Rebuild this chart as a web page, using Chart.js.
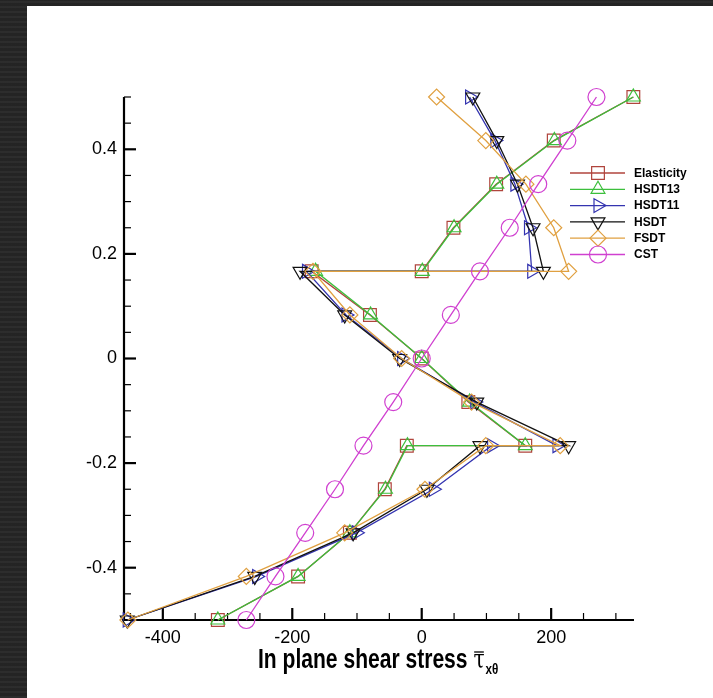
<!DOCTYPE html>
<html>
<head>
<meta charset="utf-8">
<script src="https://cdn.jsdelivr.net/npm/chart.js@4.4.1/dist/chart.umd.min.js"></script>
<style>
  html, body { margin: 0; padding: 0; width: 713px; height: 698px; overflow: hidden; background: #262626; }
  body { background-image: repeating-linear-gradient(0deg, rgba(255,255,255,0.03) 0 2px, rgba(0,0,0,0.05) 2px 5px); }
  #panel { position: absolute; left: 27px; top: 6px; width: 686px; height: 692px; background: #fff; }
  #wrap { position: absolute; left: 0; top: 0; width: 713px; height: 698px; }
</style>
</head>
<body>
<div id="panel"></div>
<div id="wrap"><canvas id="c" width="713" height="698"></canvas></div>
<script>
// Through-thickness coordinate z/h (interfaces at ±1/6 appear twice)
const zTheory = [-0.5, -0.4167, -0.3333, -0.25, -0.1667, -0.1667, -0.0833, 0, 0.0833, 0.1667, 0.1667, 0.25, 0.3333, 0.4167, 0.5];
const zCST = [-0.5, -0.4167, -0.3333, -0.25, -0.1667, -0.0833, 0, 0.0833, 0.1667, 0.25, 0.3333, 0.4167, 0.5];

// In-plane shear stress values per theory
const elasticity = [-315, -191, -111, -57, -23, 160, 72, 0, -80, -170, 0, 49, 115, 204, 327];
const hsdt13     = [-315, -191, -111, -56, -22, 160, 74, 0, -79, -164, 1, 50, 116, 205, 327];
const hsdt11     = [-455, -255, -101, 18, 108, 209, 82, -31, -117, -178, 170, 165, 144, 113, 74];
const hsdt       = [-455, -258, -106, 8, 90, 227, 85, -34, -119, -188, 188, 172, 148, 116, 79];
const fsdt       = [-454, -271, -119, 5, 99, 214, 77, -31, -111, -168, 227, 204, 161, 99, 23];
const cst        = [-271, -226, -180, -134, -90, -44, 0, 45, 90, 136, 180, 225, 270];

const seriesNames = ['Elasticity', 'HSDT13', 'HSDT11', 'HSDT', 'FSDT', 'CST'];
const xTickValues = [-400, -200, 0, 200];
const yTickValues = [-0.4, -0.2, 0, 0.2, 0.4];
const axisTitle = 'In plane shear stress ';

const toPoints = (xs, zs) => xs.map((v, i) => ({ x: v, y: zs[i] }));

const styles = [
  { color: '#b0443c', pointStyle: 'rect', radius: 9, rotation: 0 },
  { color: '#3cbf3c', pointStyle: 'triangle', radius: 8, rotation: 0 },
  { color: '#3434b0', pointStyle: 'triangle', radius: 8, rotation: 90 },
  { color: '#111111', pointStyle: 'triangle', radius: 8, rotation: 180 },
  { color: '#e0a040', pointStyle: 'rectRot', radius: 8, rotation: 0 },
  { color: '#d040d0', pointStyle: 'circle', radius: 8.5, rotation: 0 }
];

const seriesData = [
  toPoints(elasticity, zTheory),
  toPoints(hsdt13, zTheory),
  toPoints(hsdt11, zTheory),
  toPoints(hsdt, zTheory),
  toPoints(fsdt, zTheory),
  toPoints(cst, zCST)
];

// later series are painted over earlier ones
const datasets = seriesNames.map((name, i) => ({
  label: name,
  data: seriesData[i],
  order: seriesNames.length - i,
  borderColor: styles[i].color,
  backgroundColor: 'rgba(0,0,0,0)',
  borderWidth: 1.3,
  pointStyle: styles[i].pointStyle,
  pointRadius: styles[i].radius,
  pointRotation: styles[i].rotation,
  pointBorderColor: styles[i].color,
  pointBackgroundColor: 'rgba(0,0,0,0)',
  pointBorderWidth: 1.2,
  tension: 0,
  clip: false
}));

// Axis lines with inward major/minor ticks
const axesPlugin = {
  id: 'inwardAxes',
  beforeDatasetsDraw(chart) {
    const { ctx, chartArea: a, scales: { x, y } } = chart;
    ctx.save();
    ctx.strokeStyle = '#000';
    ctx.lineCap = 'butt';
    ctx.lineWidth = 2.2;
    ctx.beginPath();
    ctx.moveTo(a.left, a.top);
    ctx.lineTo(a.left, a.bottom);
    ctx.lineTo(a.right, a.bottom);
    ctx.stroke();
    // y ticks every 0.05, major every 0.2
    for (let k = -10; k <= 10; k++) {
      const py = y.getPixelForValue(k * 0.05);
      const major = k % 4 === 0;
      ctx.lineWidth = major ? 2.2 : 1.2;
      ctx.beginPath();
      ctx.moveTo(a.left, py);
      ctx.lineTo(a.left + (major ? 12 : 7), py);
      ctx.stroke();
    }
    // x ticks every 50, major every 200
    for (let v = -450; v <= 300; v += 50) {
      const px = x.getPixelForValue(v);
      const major = v % 200 === 0;
      ctx.lineWidth = major ? 2.2 : 1.2;
      ctx.beginPath();
      ctx.moveTo(px, a.bottom);
      ctx.lineTo(px, a.bottom - (major ? 12 : 7));
      ctx.stroke();
    }
    ctx.restore();
  }
};

// Legend drawn inside the plot area, line through marker
const legendPlugin = {
  id: 'innerLegend',
  afterDatasetsDraw(chart) {
    const { ctx } = chart;
    const x0 = 570, x1 = 625, xm = 598, xt = 634, yTop = 173, step = 16.3;
    ctx.save();
    chart.data.datasets.forEach((ds, i) => {
      const yy = yTop + i * step;
      ctx.strokeStyle = ds.borderColor;
      ctx.lineWidth = 1.3;
      ctx.beginPath();
      ctx.moveTo(x0, yy);
      ctx.lineTo(x1, yy);
      ctx.stroke();
      ctx.fillStyle = 'rgba(0,0,0,0)';
      ctx.lineWidth = 1.2;
      Chart.helpers.drawPoint(ctx, {
        pointStyle: ds.pointStyle,
        radius: ds.pointRadius,
        rotation: ds.pointRotation,
        borderWidth: 1.2
      }, xm, yy);
      ctx.fillStyle = '#000';
      ctx.font = 'bold 12px "Liberation Sans", Arial, sans-serif';
      ctx.textBaseline = 'middle';
      ctx.textAlign = 'left';
      ctx.fillText(ds.label, xt, yy + 0.5);
    });
    ctx.restore();
  }
};

// x-axis title: condensed bold text with overbarred tau and subscript
const titlePlugin = {
  id: 'axisTitle',
  afterDraw(chart) {
    const { ctx } = chart;
    ctx.save();
    ctx.fillStyle = '#000';
    ctx.strokeStyle = '#000';
    ctx.textBaseline = 'alphabetic';
    ctx.textAlign = 'left';
    ctx.translate(258, 668);
    ctx.scale(0.78, 1);
    ctx.font = 'bold 27px "Liberation Sans", Arial, sans-serif';
    ctx.fillText(axisTitle, 0, 0);
    const w = ctx.measureText(axisTitle).width;
    ctx.font = '26px "DejaVu Serif", "Liberation Serif", serif';
    ctx.fillText('\u03C4', w, 0);
    const tw = ctx.measureText('\u03C4').width;
    ctx.lineWidth = 1.3;
    ctx.beginPath();
    ctx.moveTo(w + 1, -16);
    ctx.lineTo(w + tw - 1, -16);
    ctx.stroke();
    ctx.font = 'bold 15px "Liberation Sans", Arial, sans-serif';
    ctx.fillText('x\u03B8', w + tw + 1, 6);
    ctx.restore();
  }
};

new Chart(document.getElementById('c'), {
  type: 'line',
  data: { datasets },
  options: {
    responsive: false,
    animation: false,
    devicePixelRatio: 1,
    layout: { padding: { top: 97, right: 79, bottom: 0, left: 0 } },
    plugins: { legend: { display: false }, tooltip: { enabled: false } },
    elements: { line: { fill: false } },
    scales: {
      x: {
        type: 'linear',
        min: -460,
        max: 328,
        grid: { display: false, drawTicks: false },
        border: { display: false },
        afterBuildTicks: s => { s.ticks = xTickValues.map(v => ({ value: v })); },
        afterFit: s => { s.height = 78; },
        ticks: {
          color: '#000',
          padding: 7,
          maxRotation: 0,
          font: { family: '"Liberation Sans", Arial, sans-serif', size: 18 },
          callback: v => String(v)
        }
      },
      y: {
        type: 'linear',
        min: -0.5,
        max: 0.5,
        grid: { display: false, drawTicks: false },
        border: { display: false },
        afterBuildTicks: s => { s.ticks = yTickValues.map(v => ({ value: v })); },
        afterFit: s => { s.width = 124; },
        ticks: {
          color: '#000',
          padding: 7,
          font: { family: '"Liberation Sans", Arial, sans-serif', size: 18 },
          callback: v => String(Math.round(v * 10) / 10)
        }
      }
    }
  },
  plugins: [axesPlugin, legendPlugin, titlePlugin]
});
</script>
</body>
</html>
